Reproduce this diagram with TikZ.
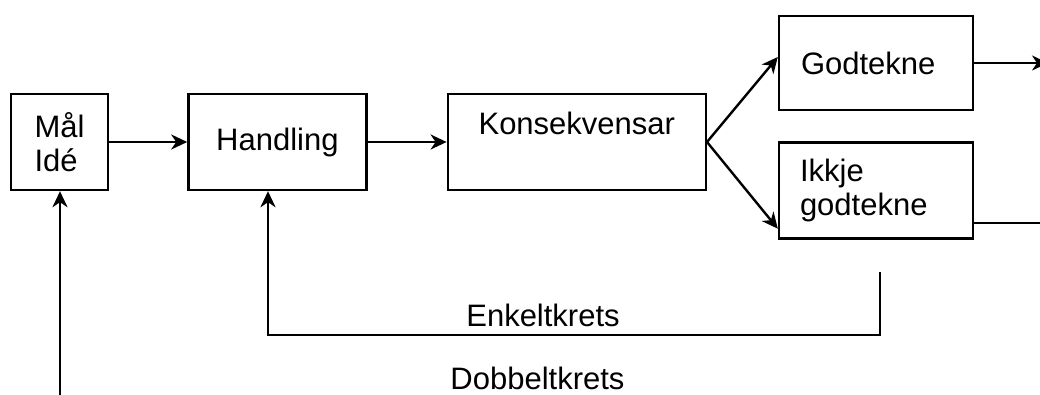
\documentclass[tikz,border=0pt]{standalone}
\usepackage{fontspec}
\setmainfont{Liberation Sans}
\usetikzlibrary{arrows.meta, positioning, calc}

\begin{document}
\begin{tikzpicture}[
        x=1pt, y=1pt,
        box/.style={rectangle, draw, line width=2.4pt, align=left, font=\fontsize{31}{34}\selectfont},
        txt/.style={font=\fontsize{31}{34}\selectfont, inner sep=0pt},
        arr/.style={line width=2.4pt, -{Stealth[length=16pt, width=15pt, inset=5pt]}}
    ]
        \useasboundingbox (0,0) rectangle (1040,394);

        % Boksane
        \node [box, minimum width=97pt, minimum height=96pt] (mal) at (59.5,252) {Mål\\Idé};
        \node [box, minimum width=178pt, minimum height=96pt, right=78pt of mal] (handling) {Handling};
        \node [box, minimum width=258pt, minimum height=96pt, right=79pt of handling] (kons) {};
        \node [txt, below=19pt of kons.north] (konstxt) {Konsekvensar};
        \node [box, text width=150pt, inner xsep=22pt, minimum height=94pt] (godt) at (876,331) {Godtekne};
        \node [box, text width=152pt, inner xsep=21pt, minimum height=96pt] (ikkje) at (876,203.5) {Ikkje\\godtekne};

        % Piler mellom boksane
        \draw[arr] (mal) -- (handling);
        \draw[arr] (handling) -- (kons);
        \draw[arr] (kons.east) -- ($(godt.west)+(0,6)$);
        \draw[arr] (kons.east) -- ($(ikkje.south west)+(0,11)$);
        \coordinate (utgodt) at (1048,331);
        \coordinate (utikkje) at (1070,171);
        \draw[arr] (godt) -- (utgodt);
        \draw[arr] (ikkje.east |- utikkje) -- (utikkje);

        % Enkeltkrets
        \coordinate (enkstart) at (880,122);
        \coordinate (enkbotn) at (268,59);
        \draw[arr] (enkstart) |- (enkbotn) -- (enkbotn |- handling.south);
        \node [txt] (enkelt) at (543,79) {Enkeltkrets};

        % Dobbeltkrets
        \coordinate (dobstart) at (60,-10);
        \draw[arr] (dobstart) -- (dobstart |- mal.south);
        \node [txt] (dobbelt) at (537.5,16) {Dobbeltkrets};
    \end{tikzpicture}
\end{document}
